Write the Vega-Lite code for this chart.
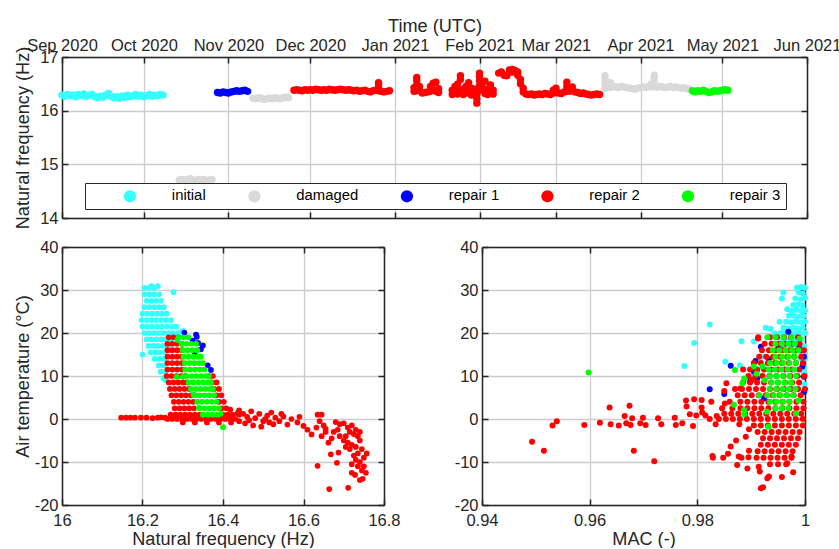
{
"$schema": "https://vega.github.io/schema/vega-lite/v6.json",
"padding": {"left": 12, "top": 16, "right": 0, "bottom": 0},
"spacing": 10,
"config": {
  "font": "Liberation Sans",
  "view": {"stroke": null},
  "axis": {"labelFont": "Liberation Sans", "labelFontSize": 16.5, "labelColor": "#262626", "titleFont": "Liberation Sans", "titleFontSize": 18.15, "titleFontWeight": "normal", "titleColor": "#262626", "gridColor": "#cccccc", "gridWidth": 1.3, "domain": true, "domainColor": "#262626", "domainWidth": 1.5, "tickColor": "#262626", "tickSize": -6, "tickWidth": 1.5, "labelPadding": 10, "titlePadding": 2, "labelFlush": false, "labelOverlap": false}
},
"resolve": {"scale": {"color": "independent"}, "legend": {"color": "independent"}},
"datasets": {
"ts": [
{"t":"2020-09-01","f":16.29,"s":"initial"},{"t":"2020-09-02","f":16.27,"s":"initial"},{"t":"2020-09-03","f":16.30,"s":"initial"},{"t":"2020-09-04","f":16.28,"s":"initial"},{"t":"2020-09-05","f":16.29,"s":"initial"},{"t":"2020-09-06","f":16.26,"s":"initial"},{"t":"2020-09-07","f":16.30,"s":"initial"},{"t":"2020-09-08","f":16.28,"s":"initial"},{"t":"2020-09-09","f":16.31,"s":"initial"},{"t":"2020-09-10","f":16.27,"s":"initial"},{"t":"2020-09-11","f":16.29,"s":"initial"},{"t":"2020-09-12","f":16.30,"s":"initial"},{"t":"2020-09-13","f":16.26,"s":"initial"},{"t":"2020-09-14","f":16.24,"s":"initial"},{"t":"2020-09-15","f":16.27,"s":"initial"},{"t":"2020-09-16","f":16.25,"s":"initial"},{"t":"2020-09-17","f":16.29,"s":"initial"},{"t":"2020-09-18","f":16.32,"s":"initial"},{"t":"2020-09-19","f":16.27,"s":"initial"},{"t":"2020-09-20","f":16.24,"s":"initial"},{"t":"2020-09-21","f":16.26,"s":"initial"},{"t":"2020-09-22","f":16.23,"s":"initial"},{"t":"2020-09-23","f":16.27,"s":"initial"},{"t":"2020-09-24","f":16.25,"s":"initial"},{"t":"2020-09-25","f":16.29,"s":"initial"},{"t":"2020-09-26","f":16.26,"s":"initial"},{"t":"2020-09-27","f":16.28,"s":"initial"},{"t":"2020-09-28","f":16.30,"s":"initial"},{"t":"2020-09-29","f":16.27,"s":"initial"},{"t":"2020-09-30","f":16.29,"s":"initial"},{"t":"2020-10-01","f":16.26,"s":"initial"},{"t":"2020-10-02","f":16.28,"s":"initial"},{"t":"2020-10-03","f":16.30,"s":"initial"},{"t":"2020-10-04","f":16.27,"s":"initial"},{"t":"2020-10-05","f":16.29,"s":"initial"},{"t":"2020-10-06","f":16.28,"s":"initial"},{"t":"2020-10-07","f":16.30,"s":"initial"},{"t":"2020-10-08","f":16.29,"s":"initial"},
{"t":"2020-10-14","f":14.71,"s":"damaged"},{"t":"2020-10-15","f":14.72,"s":"damaged"},{"t":"2020-10-16","f":14.70,"s":"damaged"},{"t":"2020-10-17","f":14.72,"s":"damaged"},{"t":"2020-10-18","f":14.73,"s":"damaged"},{"t":"2020-10-19","f":14.71,"s":"damaged"},{"t":"2020-10-20","f":14.70,"s":"damaged"},{"t":"2020-10-21","f":14.72,"s":"damaged"},{"t":"2020-10-22","f":14.71,"s":"damaged"},{"t":"2020-10-23","f":14.72,"s":"damaged"},{"t":"2020-10-24","f":14.70,"s":"damaged"},{"t":"2020-10-25","f":14.71,"s":"damaged"},{"t":"2020-10-26","f":14.72,"s":"damaged"},
{"t":"2020-10-28","f":16.34,"s":"repair 1"},{"t":"2020-10-29","f":16.33,"s":"repair 1"},{"t":"2020-10-30","f":16.35,"s":"repair 1"},{"t":"2020-10-31","f":16.34,"s":"repair 1"},{"t":"2020-11-01","f":16.33,"s":"repair 1"},{"t":"2020-11-02","f":16.35,"s":"repair 1"},{"t":"2020-11-03","f":16.36,"s":"repair 1"},{"t":"2020-11-04","f":16.37,"s":"repair 1"},{"t":"2020-11-05","f":16.36,"s":"repair 1"},{"t":"2020-11-06","f":16.37,"s":"repair 1"},{"t":"2020-11-07","f":16.38,"s":"repair 1"},{"t":"2020-11-08","f":16.36,"s":"repair 1"},
{"t":"2020-11-10","f":16.23,"s":"damaged"},{"t":"2020-11-11","f":16.22,"s":"damaged"},{"t":"2020-11-12","f":16.24,"s":"damaged"},{"t":"2020-11-13","f":16.23,"s":"damaged"},{"t":"2020-11-14","f":16.21,"s":"damaged"},{"t":"2020-11-15","f":16.22,"s":"damaged"},{"t":"2020-11-16","f":16.23,"s":"damaged"},{"t":"2020-11-17","f":16.22,"s":"damaged"},{"t":"2020-11-18","f":16.24,"s":"damaged"},{"t":"2020-11-19","f":16.23,"s":"damaged"},{"t":"2020-11-20","f":16.22,"s":"damaged"},{"t":"2020-11-21","f":16.24,"s":"damaged"},{"t":"2020-11-22","f":16.25,"s":"damaged"},{"t":"2020-11-23","f":16.24,"s":"damaged"},
{"t":"2020-11-25","f":16.38,"s":"repair 2"},{"t":"2020-11-26","f":16.39,"s":"repair 2"},{"t":"2020-11-27","f":16.38,"s":"repair 2"},{"t":"2020-11-28","f":16.37,"s":"repair 2"},{"t":"2020-11-29","f":16.39,"s":"repair 2"},{"t":"2020-11-30","f":16.38,"s":"repair 2"},{"t":"2020-12-01","f":16.39,"s":"repair 2"},{"t":"2020-12-02","f":16.38,"s":"repair 2"},{"t":"2020-12-03","f":16.40,"s":"repair 2"},{"t":"2020-12-04","f":16.39,"s":"repair 2"},{"t":"2020-12-05","f":16.38,"s":"repair 2"},{"t":"2020-12-06","f":16.39,"s":"repair 2"},{"t":"2020-12-07","f":16.38,"s":"repair 2"},{"t":"2020-12-08","f":16.40,"s":"repair 2"},{"t":"2020-12-09","f":16.39,"s":"repair 2"},{"t":"2020-12-10","f":16.38,"s":"repair 2"},{"t":"2020-12-11","f":16.39,"s":"repair 2"},{"t":"2020-12-12","f":16.40,"s":"repair 2"},{"t":"2020-12-13","f":16.39,"s":"repair 2"},{"t":"2020-12-14","f":16.38,"s":"repair 2"},{"t":"2020-12-15","f":16.39,"s":"repair 2"},{"t":"2020-12-16","f":16.38,"s":"repair 2"},{"t":"2020-12-17","f":16.37,"s":"repair 2"},{"t":"2020-12-18","f":16.38,"s":"repair 2"},{"t":"2020-12-19","f":16.36,"s":"repair 2"},{"t":"2020-12-20","f":16.37,"s":"repair 2"},{"t":"2020-12-21","f":16.38,"s":"repair 2"},{"t":"2020-12-22","f":16.36,"s":"repair 2"},{"t":"2020-12-23","f":16.35,"s":"repair 2"},{"t":"2020-12-24","f":16.37,"s":"repair 2"},{"t":"2020-12-25","f":16.38,"s":"repair 2"},{"t":"2020-12-26","f":16.37,"s":"repair 2"},{"t":"2020-12-26","f":16.43,"s":"repair 2"},{"t":"2020-12-26","f":16.48,"s":"repair 2"},{"t":"2020-12-26","f":16.52,"s":"repair 2"},{"t":"2020-12-27","f":16.36,"s":"repair 2"},{"t":"2020-12-28","f":16.35,"s":"repair 2"},{"t":"2020-12-29","f":16.36,"s":"repair 2"},{"t":"2020-12-30","f":16.37,"s":"repair 2"},
{"t":"2021-01-08","f":16.36,"s":"repair 2"},{"t":"2021-01-08","f":16.43,"s":"repair 2"},{"t":"2021-01-09","f":16.37,"s":"repair 2"},{"t":"2021-01-09","f":16.48,"s":"repair 2"},{"t":"2021-01-09","f":16.56,"s":"repair 2"},{"t":"2021-01-09","f":16.62,"s":"repair 2"},{"t":"2021-01-10","f":16.38,"s":"repair 2"},{"t":"2021-01-10","f":16.45,"s":"repair 2"},{"t":"2021-01-11","f":16.33,"s":"repair 2"},{"t":"2021-01-12","f":16.34,"s":"repair 2"},{"t":"2021-01-13","f":16.35,"s":"repair 2"},{"t":"2021-01-14","f":16.36,"s":"repair 2"},{"t":"2021-01-14","f":16.45,"s":"repair 2"},{"t":"2021-01-15","f":16.38,"s":"repair 2"},{"t":"2021-01-15","f":16.51,"s":"repair 2"},{"t":"2021-01-16","f":16.36,"s":"repair 2"},{"t":"2021-01-16","f":16.53,"s":"repair 2"},{"t":"2021-01-17","f":16.34,"s":"repair 2"},{"t":"2021-01-17","f":16.41,"s":"repair 2"},
{"t":"2021-01-22","f":16.30,"s":"repair 2"},{"t":"2021-01-22","f":16.38,"s":"repair 2"},{"t":"2021-01-23","f":16.33,"s":"repair 2"},{"t":"2021-01-23","f":16.45,"s":"repair 2"},{"t":"2021-01-24","f":16.31,"s":"repair 2"},{"t":"2021-01-24","f":16.50,"s":"repair 2"},{"t":"2021-01-25","f":16.40,"s":"repair 2"},{"t":"2021-01-25","f":16.58,"s":"repair 2"},{"t":"2021-01-25","f":16.65,"s":"repair 2"},{"t":"2021-01-26","f":16.30,"s":"repair 2"},{"t":"2021-01-26","f":16.38,"s":"repair 2"},{"t":"2021-01-27","f":16.45,"s":"repair 2"},{"t":"2021-01-27","f":16.33,"s":"repair 2"},{"t":"2021-01-28","f":16.52,"s":"repair 2"},{"t":"2021-01-28","f":16.36,"s":"repair 2"},{"t":"2021-01-29","f":16.29,"s":"repair 2"},{"t":"2021-01-29","f":16.42,"s":"repair 2"},{"t":"2021-01-30","f":16.31,"s":"repair 2"},{"t":"2021-01-30","f":16.40,"s":"repair 2"},{"t":"2021-01-31","f":16.14,"s":"repair 2"},{"t":"2021-01-31","f":16.22,"s":"repair 2"},{"t":"2021-01-31","f":16.30,"s":"repair 2"},{"t":"2021-02-01","f":16.38,"s":"repair 2"},{"t":"2021-02-01","f":16.47,"s":"repair 2"},{"t":"2021-02-01","f":16.56,"s":"repair 2"},{"t":"2021-02-01","f":16.63,"s":"repair 2"},{"t":"2021-02-01","f":16.70,"s":"repair 2"},{"t":"2021-02-02","f":16.40,"s":"repair 2"},{"t":"2021-02-02","f":16.50,"s":"repair 2"},{"t":"2021-02-03","f":16.32,"s":"repair 2"},{"t":"2021-02-03","f":16.55,"s":"repair 2"},{"t":"2021-02-04","f":16.30,"s":"repair 2"},{"t":"2021-02-04","f":16.40,"s":"repair 2"},{"t":"2021-02-05","f":16.36,"s":"repair 2"},{"t":"2021-02-05","f":16.48,"s":"repair 2"},{"t":"2021-02-06","f":16.31,"s":"repair 2"},{"t":"2021-02-06","f":16.38,"s":"repair 2"},
{"t":"2021-02-08","f":16.70,"s":"repair 2"},{"t":"2021-02-09","f":16.72,"s":"repair 2"},{"t":"2021-02-10","f":16.66,"s":"repair 2"},{"t":"2021-02-11","f":16.65,"s":"repair 2"},{"t":"2021-02-12","f":16.72,"s":"repair 2"},{"t":"2021-02-12","f":16.76,"s":"repair 2"},{"t":"2021-02-13","f":16.77,"s":"repair 2"},{"t":"2021-02-13","f":16.72,"s":"repair 2"},{"t":"2021-02-14","f":16.75,"s":"repair 2"},{"t":"2021-02-15","f":16.72,"s":"repair 2"},{"t":"2021-02-15","f":16.66,"s":"repair 2"},{"t":"2021-02-16","f":16.58,"s":"repair 2"},{"t":"2021-02-16","f":16.50,"s":"repair 2"},{"t":"2021-02-17","f":16.42,"s":"repair 2"},{"t":"2021-02-17","f":16.35,"s":"repair 2"},
{"t":"2021-02-18","f":16.31,"s":"repair 2"},{"t":"2021-02-19","f":16.30,"s":"repair 2"},{"t":"2021-02-20","f":16.31,"s":"repair 2"},{"t":"2021-02-21","f":16.29,"s":"repair 2"},{"t":"2021-02-22","f":16.30,"s":"repair 2"},{"t":"2021-02-23","f":16.31,"s":"repair 2"},{"t":"2021-02-24","f":16.30,"s":"repair 2"},{"t":"2021-02-25","f":16.32,"s":"repair 2"},{"t":"2021-02-26","f":16.31,"s":"repair 2"},{"t":"2021-02-27","f":16.30,"s":"repair 2"},{"t":"2021-02-28","f":16.33,"s":"repair 2"},{"t":"2021-02-28","f":16.38,"s":"repair 2"},{"t":"2021-03-01","f":16.34,"s":"repair 2"},{"t":"2021-03-01","f":16.42,"s":"repair 2"},{"t":"2021-03-02","f":16.33,"s":"repair 2"},{"t":"2021-03-03","f":16.32,"s":"repair 2"},{"t":"2021-03-04","f":16.35,"s":"repair 2"},{"t":"2021-03-05","f":16.36,"s":"repair 2"},{"t":"2021-03-05","f":16.45,"s":"repair 2"},{"t":"2021-03-05","f":16.53,"s":"repair 2"},{"t":"2021-03-06","f":16.36,"s":"repair 2"},{"t":"2021-03-07","f":16.38,"s":"repair 2"},{"t":"2021-03-07","f":16.44,"s":"repair 2"},{"t":"2021-03-08","f":16.35,"s":"repair 2"},{"t":"2021-03-09","f":16.34,"s":"repair 2"},{"t":"2021-03-10","f":16.32,"s":"repair 2"},{"t":"2021-03-11","f":16.33,"s":"repair 2"},{"t":"2021-03-12","f":16.31,"s":"repair 2"},{"t":"2021-03-13","f":16.30,"s":"repair 2"},{"t":"2021-03-14","f":16.29,"s":"repair 2"},{"t":"2021-03-15","f":16.30,"s":"repair 2"},{"t":"2021-03-16","f":16.31,"s":"repair 2"},{"t":"2021-03-17","f":16.30,"s":"repair 2"},
{"t":"2021-03-19","f":16.42,"s":"damaged"},{"t":"2021-03-19","f":16.50,"s":"damaged"},{"t":"2021-03-19","f":16.58,"s":"damaged"},{"t":"2021-03-19","f":16.65,"s":"damaged"},{"t":"2021-03-20","f":16.44,"s":"damaged"},{"t":"2021-03-21","f":16.43,"s":"damaged"},{"t":"2021-03-21","f":16.52,"s":"damaged"},{"t":"2021-03-22","f":16.45,"s":"damaged"},{"t":"2021-03-23","f":16.44,"s":"damaged"},{"t":"2021-03-24","f":16.43,"s":"damaged"},{"t":"2021-03-25","f":16.45,"s":"damaged"},{"t":"2021-03-26","f":16.44,"s":"damaged"},{"t":"2021-03-27","f":16.43,"s":"damaged"},{"t":"2021-03-28","f":16.42,"s":"damaged"},{"t":"2021-03-29","f":16.41,"s":"damaged"},{"t":"2021-03-30","f":16.40,"s":"damaged"},{"t":"2021-03-31","f":16.42,"s":"damaged"},{"t":"2021-04-01","f":16.43,"s":"damaged"},{"t":"2021-04-02","f":16.44,"s":"damaged"},{"t":"2021-04-03","f":16.43,"s":"damaged"},{"t":"2021-04-04","f":16.45,"s":"damaged"},{"t":"2021-04-05","f":16.44,"s":"damaged"},{"t":"2021-04-05","f":16.50,"s":"damaged"},{"t":"2021-04-06","f":16.46,"s":"damaged"},{"t":"2021-04-06","f":16.52,"s":"damaged"},{"t":"2021-04-06","f":16.60,"s":"damaged"},{"t":"2021-04-06","f":16.66,"s":"damaged"},{"t":"2021-04-07","f":16.44,"s":"damaged"},{"t":"2021-04-08","f":16.45,"s":"damaged"},{"t":"2021-04-09","f":16.44,"s":"damaged"},{"t":"2021-04-10","f":16.43,"s":"damaged"},{"t":"2021-04-11","f":16.44,"s":"damaged"},{"t":"2021-04-12","f":16.45,"s":"damaged"},{"t":"2021-04-13","f":16.43,"s":"damaged"},{"t":"2021-04-14","f":16.44,"s":"damaged"},{"t":"2021-04-15","f":16.43,"s":"damaged"},{"t":"2021-04-16","f":16.42,"s":"damaged"},{"t":"2021-04-17","f":16.43,"s":"damaged"},{"t":"2021-04-18","f":16.41,"s":"damaged"},{"t":"2021-04-19","f":16.40,"s":"damaged"},
{"t":"2021-04-20","f":16.37,"s":"repair 3"},{"t":"2021-04-21","f":16.35,"s":"repair 3"},{"t":"2021-04-22","f":16.37,"s":"repair 3"},{"t":"2021-04-23","f":16.36,"s":"repair 3"},{"t":"2021-04-24","f":16.38,"s":"repair 3"},{"t":"2021-04-25","f":16.36,"s":"repair 3"},{"t":"2021-04-26","f":16.34,"s":"repair 3"},{"t":"2021-04-27","f":16.35,"s":"repair 3"},{"t":"2021-04-28","f":16.37,"s":"repair 3"},{"t":"2021-04-29","f":16.36,"s":"repair 3"},{"t":"2021-04-30","f":16.37,"s":"repair 3"},{"t":"2021-05-01","f":16.38,"s":"repair 3"},{"t":"2021-05-02","f":16.39,"s":"repair 3"},{"t":"2021-05-03","f":16.38,"s":"repair 3"}
],
"ft": [
{"f":16.205,"T":30.5,"s":"initial"},{"f":16.217,"T":30.5,"s":"initial"},{"f":16.229,"T":30.5,"s":"initial"},{"f":16.222,"T":30.9,"s":"initial"},{"f":16.238,"T":30.9,"s":"initial"},
{"f":16.205,"T":29,"s":"initial"},{"f":16.217,"T":29,"s":"initial"},{"f":16.229,"T":29,"s":"initial"},{"f":16.241,"T":29,"s":"initial"},{"f":16.277,"T":29.5,"s":"initial"},
{"f":16.21,"T":27.5,"s":"initial"},{"f":16.222,"T":27.5,"s":"initial"},{"f":16.234,"T":27.5,"s":"initial"},{"f":16.246,"T":27.5,"s":"initial"},
{"f":16.205,"T":26,"s":"initial"},{"f":16.217,"T":26,"s":"initial"},{"f":16.229,"T":26,"s":"initial"},{"f":16.241,"T":26,"s":"initial"},{"f":16.253,"T":26,"s":"initial"},
{"f":16.2,"T":24.5,"s":"initial"},{"f":16.212,"T":24.5,"s":"initial"},{"f":16.224,"T":24.5,"s":"initial"},{"f":16.236,"T":24.5,"s":"initial"},{"f":16.248,"T":24.5,"s":"initial"},{"f":16.26,"T":24.5,"s":"initial"},
{"f":16.198,"T":23,"s":"initial"},{"f":16.21,"T":23,"s":"initial"},{"f":16.222,"T":23,"s":"initial"},{"f":16.234,"T":23,"s":"initial"},{"f":16.246,"T":23,"s":"initial"},{"f":16.258,"T":23,"s":"initial"},{"f":16.27,"T":23,"s":"initial"},
{"f":16.2,"T":21.5,"s":"initial"},{"f":16.212,"T":21.5,"s":"initial"},{"f":16.224,"T":21.5,"s":"initial"},{"f":16.236,"T":21.5,"s":"initial"},{"f":16.248,"T":21.5,"s":"initial"},{"f":16.26,"T":21.5,"s":"initial"},{"f":16.272,"T":21.5,"s":"initial"},{"f":16.284,"T":21.5,"s":"initial"},
{"f":16.205,"T":20,"s":"initial"},{"f":16.217,"T":20,"s":"initial"},{"f":16.229,"T":20,"s":"initial"},{"f":16.241,"T":20,"s":"initial"},{"f":16.253,"T":20,"s":"initial"},{"f":16.265,"T":20,"s":"initial"},{"f":16.277,"T":20,"s":"initial"},{"f":16.289,"T":20,"s":"initial"},{"f":16.3,"T":20.5,"s":"initial"},
{"f":16.21,"T":18.5,"s":"initial"},{"f":16.222,"T":18.5,"s":"initial"},{"f":16.234,"T":18.5,"s":"initial"},{"f":16.246,"T":18.5,"s":"initial"},{"f":16.258,"T":18.5,"s":"initial"},{"f":16.27,"T":18.5,"s":"initial"},
{"f":16.215,"T":17,"s":"initial"},{"f":16.227,"T":17,"s":"initial"},{"f":16.239,"T":17,"s":"initial"},{"f":16.251,"T":17,"s":"initial"},{"f":16.263,"T":17,"s":"initial"},
{"f":16.22,"T":15.5,"s":"initial"},{"f":16.232,"T":15.5,"s":"initial"},{"f":16.244,"T":15.5,"s":"initial"},{"f":16.256,"T":15.5,"s":"initial"},{"f":16.2,"T":15,"s":"initial"},
{"f":16.23,"T":14,"s":"initial"},{"f":16.242,"T":14,"s":"initial"},{"f":16.254,"T":14,"s":"initial"},
{"f":16.24,"T":12.5,"s":"initial"},{"f":16.252,"T":12.5,"s":"initial"},{"f":16.245,"T":11,"s":"initial"},{"f":16.257,"T":11,"s":"initial"},{"f":16.252,"T":9.5,"s":"initial"},{"f":16.258,"T":9,"s":"initial"},
{"f":16.304,"T":20.1,"s":"repair 1"},{"f":16.333,"T":19.6,"s":"repair 1"},{"f":16.335,"T":19.1,"s":"repair 1"},{"f":16.338,"T":17.7,"s":"repair 1"},{"f":16.35,"T":17.1,"s":"repair 1"},{"f":16.345,"T":16.2,"s":"repair 1"},{"f":16.33,"T":14.9,"s":"repair 1"},{"f":16.362,"T":12.5,"s":"repair 1"},{"f":16.37,"T":11.4,"s":"repair 1"},{"f":16.325,"T":18.2,"s":"repair 1"},
{"f":16.265,"T":19,"s":"repair 2"},{"f":16.277,"T":19,"s":"repair 2"},{"f":16.289,"T":19,"s":"repair 2"},
{"f":16.262,"T":17.5,"s":"repair 2"},{"f":16.274,"T":17.5,"s":"repair 2"},{"f":16.286,"T":17.5,"s":"repair 2"},{"f":16.298,"T":17.5,"s":"repair 2"},
{"f":16.262,"T":16,"s":"repair 2"},{"f":16.274,"T":16,"s":"repair 2"},{"f":16.286,"T":16,"s":"repair 2"},{"f":16.298,"T":16,"s":"repair 2"},
{"f":16.262,"T":14.5,"s":"repair 2"},{"f":16.274,"T":14.5,"s":"repair 2"},{"f":16.286,"T":14.5,"s":"repair 2"},{"f":16.298,"T":14.5,"s":"repair 2"},
{"f":16.262,"T":13,"s":"repair 2"},{"f":16.274,"T":13,"s":"repair 2"},{"f":16.286,"T":13,"s":"repair 2"},{"f":16.298,"T":13,"s":"repair 2"},
{"f":16.262,"T":11.5,"s":"repair 2"},{"f":16.274,"T":11.5,"s":"repair 2"},{"f":16.286,"T":11.5,"s":"repair 2"},{"f":16.298,"T":11.5,"s":"repair 2"},
{"f":16.26,"T":10,"s":"repair 2"},{"f":16.272,"T":10,"s":"repair 2"},{"f":16.284,"T":10,"s":"repair 2"},{"f":16.296,"T":10,"s":"repair 2"},{"f":16.306,"T":10,"s":"repair 2"},{"f":16.366,"T":10,"s":"repair 2"},{"f":16.375,"T":10,"s":"repair 2"},
{"f":16.265,"T":8.5,"s":"repair 2"},{"f":16.277,"T":8.5,"s":"repair 2"},{"f":16.289,"T":8.5,"s":"repair 2"},{"f":16.301,"T":8.5,"s":"repair 2"},{"f":16.311,"T":8.5,"s":"repair 2"},{"f":16.372,"T":8.5,"s":"repair 2"},{"f":16.384,"T":8.5,"s":"repair 2"},
{"f":16.268,"T":7,"s":"repair 2"},{"f":16.28,"T":7,"s":"repair 2"},{"f":16.292,"T":7,"s":"repair 2"},{"f":16.304,"T":7,"s":"repair 2"},{"f":16.316,"T":7,"s":"repair 2"},{"f":16.378,"T":7,"s":"repair 2"},{"f":16.39,"T":7,"s":"repair 2"},
{"f":16.272,"T":5.5,"s":"repair 2"},{"f":16.284,"T":5.5,"s":"repair 2"},{"f":16.296,"T":5.5,"s":"repair 2"},{"f":16.308,"T":5.5,"s":"repair 2"},{"f":16.32,"T":5.5,"s":"repair 2"},{"f":16.384,"T":5.5,"s":"repair 2"},{"f":16.396,"T":5.5,"s":"repair 2"},
{"f":16.278,"T":4,"s":"repair 2"},{"f":16.29,"T":4,"s":"repair 2"},{"f":16.302,"T":4,"s":"repair 2"},{"f":16.314,"T":4,"s":"repair 2"},{"f":16.326,"T":4,"s":"repair 2"},{"f":16.39,"T":4,"s":"repair 2"},{"f":16.402,"T":4,"s":"repair 2"},
{"f":16.28,"T":2.5,"s":"repair 2"},{"f":16.292,"T":2.5,"s":"repair 2"},{"f":16.304,"T":2.5,"s":"repair 2"},{"f":16.316,"T":2.5,"s":"repair 2"},{"f":16.328,"T":2.5,"s":"repair 2"},{"f":16.396,"T":2.5,"s":"repair 2"},{"f":16.408,"T":2.5,"s":"repair 2"},{"f":16.418,"T":2.2,"s":"repair 2"},
{"f":16.27,"T":1,"s":"repair 2"},{"f":16.282,"T":1,"s":"repair 2"},{"f":16.294,"T":1,"s":"repair 2"},{"f":16.306,"T":1,"s":"repair 2"},{"f":16.318,"T":1,"s":"repair 2"},{"f":16.33,"T":1,"s":"repair 2"},{"f":16.342,"T":1,"s":"repair 2"},{"f":16.4,"T":1,"s":"repair 2"},{"f":16.412,"T":1,"s":"repair 2"},{"f":16.424,"T":1,"s":"repair 2"},{"f":16.436,"T":1.3,"s":"repair 2"},
{"f":16.262,"T":0,"s":"repair 2"},{"f":16.274,"T":0,"s":"repair 2"},{"f":16.286,"T":0,"s":"repair 2"},{"f":16.298,"T":0,"s":"repair 2"},{"f":16.31,"T":0,"s":"repair 2"},{"f":16.322,"T":0,"s":"repair 2"},{"f":16.334,"T":0,"s":"repair 2"},{"f":16.346,"T":0,"s":"repair 2"},{"f":16.358,"T":0,"s":"repair 2"},{"f":16.37,"T":0,"s":"repair 2"},{"f":16.382,"T":0,"s":"repair 2"},{"f":16.394,"T":0,"s":"repair 2"},{"f":16.406,"T":0,"s":"repair 2"},{"f":16.418,"T":0,"s":"repair 2"},{"f":16.43,"T":0,"s":"repair 2"},
{"f":16.3,"T":-0.8,"s":"repair 2"},{"f":16.33,"T":-0.8,"s":"repair 2"},{"f":16.36,"T":-0.8,"s":"repair 2"},{"f":16.39,"T":-0.8,"s":"repair 2"},{"f":16.42,"T":-0.8,"s":"repair 2"},
{"f":16.147,"T":0.3,"s":"repair 2"},{"f":16.159,"T":0.3,"s":"repair 2"},{"f":16.17,"T":0.3,"s":"repair 2"},{"f":16.181,"T":0.3,"s":"repair 2"},{"f":16.196,"T":0.3,"s":"repair 2"},{"f":16.21,"T":0.3,"s":"repair 2"},{"f":16.225,"T":0.2,"s":"repair 2"},{"f":16.238,"T":0.3,"s":"repair 2"},{"f":16.246,"T":0.4,"s":"repair 2"},{"f":16.256,"T":0.3,"s":"repair 2"},
{"f":16.44,"T":2,"s":"repair 2"},{"f":16.45,"T":1.2,"s":"repair 2"},{"f":16.46,"T":0.5,"s":"repair 2"},{"f":16.44,"T":-0.5,"s":"repair 2"},{"f":16.455,"T":-1,"s":"repair 2"},{"f":16.47,"T":1.8,"s":"repair 2"},{"f":16.48,"T":0.2,"s":"repair 2"},{"f":16.49,"T":1.2,"s":"repair 2"},{"f":16.475,"T":-1.5,"s":"repair 2"},{"f":16.5,"T":-0.5,"s":"repair 2"},{"f":16.51,"T":0.8,"s":"repair 2"},{"f":16.52,"T":1.5,"s":"repair 2"},{"f":16.53,"T":0.3,"s":"repair 2"},{"f":16.525,"T":-1.2,"s":"repair 2"},{"f":16.54,"T":-0.5,"s":"repair 2"},{"f":16.55,"T":0.6,"s":"repair 2"},{"f":16.56,"T":-1.3,"s":"repair 2"},{"f":16.57,"T":0,"s":"repair 2"},{"f":16.585,"T":-0.8,"s":"repair 2"},{"f":16.59,"T":0.5,"s":"repair 2"},{"f":16.6,"T":-1.6,"s":"repair 2"},{"f":16.61,"T":-2.5,"s":"repair 2"},{"f":16.62,"T":-3.6,"s":"repair 2"},{"f":16.44,"T":1,"s":"repair 2"},{"f":16.465,"T":-0.3,"s":"repair 2"},{"f":16.495,"T":-1.8,"s":"repair 2"},{"f":16.505,"T":0,"s":"repair 2"},{"f":16.545,"T":1.2,"s":"repair 2"},{"f":16.515,"T":-0.8,"s":"repair 2"},
{"f":16.635,"T":1,"s":"repair 2"},{"f":16.645,"T":1,"s":"repair 2"},{"f":16.64,"T":-0.5,"s":"repair 2"},{"f":16.65,"T":-1.5,"s":"repair 2"},{"f":16.632,"T":-2,"s":"repair 2"},{"f":16.655,"T":-3,"s":"repair 2"},{"f":16.645,"T":-4,"s":"repair 2"},{"f":16.662,"T":-5.5,"s":"repair 2"},{"f":16.67,"T":-4.5,"s":"repair 2"},{"f":16.655,"T":-2.3,"s":"repair 2"},{"f":16.68,"T":-0.7,"s":"repair 2"},{"f":16.69,"T":-1.2,"s":"repair 2"},{"f":16.685,"T":-2.5,"s":"repair 2"},{"f":16.7,"T":-1,"s":"repair 2"},{"f":16.71,"T":-2,"s":"repair 2"},{"f":16.72,"T":-1.5,"s":"repair 2"},{"f":16.73,"T":-2.5,"s":"repair 2"},{"f":16.74,"T":-3,"s":"repair 2"},{"f":16.735,"T":-4,"s":"repair 2"},{"f":16.725,"T":-3.5,"s":"repair 2"},{"f":16.715,"T":-3,"s":"repair 2"},{"f":16.705,"T":-4,"s":"repair 2"},{"f":16.7,"T":-5,"s":"repair 2"},{"f":16.71,"T":-5.5,"s":"repair 2"},{"f":16.72,"T":-6,"s":"repair 2"},{"f":16.73,"T":-6.5,"s":"repair 2"},{"f":16.74,"T":-5,"s":"repair 2"},{"f":16.745,"T":-7,"s":"repair 2"},{"f":16.735,"T":-8,"s":"repair 2"},{"f":16.725,"T":-8.5,"s":"repair 2"},{"f":16.715,"T":-7,"s":"repair 2"},{"f":16.705,"T":-6.5,"s":"repair 2"},{"f":16.73,"T":-9.5,"s":"repair 2"},{"f":16.74,"T":-10,"s":"repair 2"},{"f":16.75,"T":-11,"s":"repair 2"},{"f":16.745,"T":-12,"s":"repair 2"},{"f":16.735,"T":-11,"s":"repair 2"},{"f":16.72,"T":-10.5,"s":"repair 2"},{"f":16.747,"T":-13.9,"s":"repair 2"},{"f":16.74,"T":-14.2,"s":"repair 2"},{"f":16.755,"T":-12.5,"s":"repair 2"},{"f":16.757,"T":-8,"s":"repair 2"},{"f":16.75,"T":-9,"s":"repair 2"},{"f":16.683,"T":-10.2,"s":"repair 2"},{"f":16.687,"T":-7.8,"s":"repair 2"},{"f":16.668,"T":-8.2,"s":"repair 2"},{"f":16.635,"T":-10.9,"s":"repair 2"},{"f":16.664,"T":-16.3,"s":"repair 2"},{"f":16.711,"T":-16,"s":"repair 2"},{"f":16.72,"T":-12.5,"s":"repair 2"},{"f":16.728,"T":-13,"s":"repair 2"},{"f":16.69,"T":-4,"s":"repair 2"},{"f":16.675,"T":-3,"s":"repair 2"},
{"f":16.29,"T":19,"s":"repair 3"},{"f":16.302,"T":19,"s":"repair 3"},{"f":16.314,"T":19,"s":"repair 3"},{"f":16.287,"T":18.4,"s":"repair 3"},
{"f":16.297,"T":17.5,"s":"repair 3"},{"f":16.309,"T":17.5,"s":"repair 3"},{"f":16.321,"T":17.5,"s":"repair 3"},{"f":16.333,"T":17.5,"s":"repair 3"},
{"f":16.3,"T":16,"s":"repair 3"},{"f":16.312,"T":16,"s":"repair 3"},{"f":16.324,"T":16,"s":"repair 3"},{"f":16.336,"T":16,"s":"repair 3"},
{"f":16.302,"T":14.5,"s":"repair 3"},{"f":16.314,"T":14.5,"s":"repair 3"},{"f":16.326,"T":14.5,"s":"repair 3"},{"f":16.338,"T":14.5,"s":"repair 3"},{"f":16.345,"T":14.5,"s":"repair 3"},
{"f":16.305,"T":13,"s":"repair 3"},{"f":16.317,"T":13,"s":"repair 3"},{"f":16.329,"T":13,"s":"repair 3"},{"f":16.341,"T":13,"s":"repair 3"},{"f":16.35,"T":13,"s":"repair 3"},
{"f":16.306,"T":11.5,"s":"repair 3"},{"f":16.318,"T":11.5,"s":"repair 3"},{"f":16.33,"T":11.5,"s":"repair 3"},{"f":16.342,"T":11.5,"s":"repair 3"},{"f":16.354,"T":11.5,"s":"repair 3"},
{"f":16.31,"T":10,"s":"repair 3"},{"f":16.322,"T":10,"s":"repair 3"},{"f":16.334,"T":10,"s":"repair 3"},{"f":16.346,"T":10,"s":"repair 3"},{"f":16.358,"T":10,"s":"repair 3"},{"f":16.365,"T":10,"s":"repair 3"},
{"f":16.315,"T":8.5,"s":"repair 3"},{"f":16.327,"T":8.5,"s":"repair 3"},{"f":16.339,"T":8.5,"s":"repair 3"},{"f":16.351,"T":8.5,"s":"repair 3"},{"f":16.363,"T":8.5,"s":"repair 3"},{"f":16.37,"T":8.5,"s":"repair 3"},
{"f":16.32,"T":7,"s":"repair 3"},{"f":16.332,"T":7,"s":"repair 3"},{"f":16.344,"T":7,"s":"repair 3"},{"f":16.356,"T":7,"s":"repair 3"},{"f":16.368,"T":7,"s":"repair 3"},{"f":16.375,"T":7,"s":"repair 3"},
{"f":16.33,"T":5.5,"s":"repair 3"},{"f":16.342,"T":5.5,"s":"repair 3"},{"f":16.354,"T":5.5,"s":"repair 3"},{"f":16.366,"T":5.5,"s":"repair 3"},{"f":16.378,"T":5.5,"s":"repair 3"},
{"f":16.336,"T":4,"s":"repair 3"},{"f":16.348,"T":4,"s":"repair 3"},{"f":16.36,"T":4,"s":"repair 3"},{"f":16.372,"T":4,"s":"repair 3"},{"f":16.384,"T":4,"s":"repair 3"},
{"f":16.342,"T":2.5,"s":"repair 3"},{"f":16.354,"T":2.5,"s":"repair 3"},{"f":16.366,"T":2.5,"s":"repair 3"},{"f":16.378,"T":2.5,"s":"repair 3"},{"f":16.39,"T":2.5,"s":"repair 3"},
{"f":16.35,"T":1,"s":"repair 3"},{"f":16.362,"T":1,"s":"repair 3"},{"f":16.374,"T":1,"s":"repair 3"},{"f":16.386,"T":1,"s":"repair 3"},{"f":16.394,"T":1.2,"s":"repair 3"},
{"f":16.285,"T":9.8,"s":"repair 3"},{"f":16.3,"T":9.8,"s":"repair 3"},{"f":16.327,"T":5.7,"s":"repair 3"},{"f":16.34,"T":2.6,"s":"repair 3"},{"f":16.4,"T":-1.9,"s":"repair 3"}
],
"mt": [
{"m":0.9985,"T":30.5,"s":"initial"},{"m":0.9993,"T":30.7,"s":"initial"},{"m":1.0,"T":30.5,"s":"initial"},{"m":0.996,"T":29.4,"s":"initial"},{"m":0.9988,"T":29.5,"s":"initial"},{"m":0.9996,"T":29.2,"s":"initial"},
{"m":0.9957,"T":28,"s":"initial"},{"m":0.9982,"T":28,"s":"initial"},{"m":0.9992,"T":27.8,"s":"initial"},{"m":1.0,"T":28.2,"s":"initial"},
{"m":0.9978,"T":26.5,"s":"initial"},{"m":0.9987,"T":26.6,"s":"initial"},{"m":0.9995,"T":26.4,"s":"initial"},
{"m":0.9967,"T":25.5,"s":"initial"},{"m":0.9975,"T":25.2,"s":"initial"},{"m":0.9984,"T":25.4,"s":"initial"},{"m":0.9993,"T":25.1,"s":"initial"},{"m":1.0,"T":25.3,"s":"initial"},
{"m":0.997,"T":24,"s":"initial"},{"m":0.9979,"T":24,"s":"initial"},{"m":0.9988,"T":23.8,"s":"initial"},{"m":0.9997,"T":24,"s":"initial"},
{"m":0.9953,"T":22.6,"s":"initial"},{"m":0.9965,"T":22.6,"s":"initial"},{"m":0.9974,"T":22.5,"s":"initial"},{"m":0.9983,"T":22.7,"s":"initial"},{"m":0.9992,"T":22.5,"s":"initial"},{"m":1.0,"T":22.6,"s":"initial"},
{"m":0.9927,"T":21.2,"s":"initial"},{"m":0.996,"T":21.2,"s":"initial"},{"m":0.9969,"T":21,"s":"initial"},{"m":0.9978,"T":21.2,"s":"initial"},{"m":0.9987,"T":21,"s":"initial"},{"m":0.9996,"T":21.2,"s":"initial"},
{"m":0.9944,"T":19.9,"s":"initial"},{"m":0.9955,"T":20,"s":"initial"},{"m":0.9964,"T":20,"s":"initial"},{"m":0.9973,"T":19.8,"s":"initial"},{"m":0.9982,"T":20,"s":"initial"},{"m":0.9991,"T":19.9,"s":"initial"},{"m":1.0,"T":20,"s":"initial"},
{"m":0.9958,"T":18.5,"s":"initial"},{"m":0.9967,"T":18.5,"s":"initial"},{"m":0.9976,"T":18.5,"s":"initial"},{"m":0.9985,"T":18.5,"s":"initial"},{"m":0.9994,"T":18.5,"s":"initial"},
{"m":0.9962,"T":17,"s":"initial"},{"m":0.9975,"T":17,"s":"initial"},{"m":0.9988,"T":17,"s":"initial"},{"m":0.9998,"T":17,"s":"initial"},
{"m":0.998,"T":15.5,"s":"initial"},{"m":0.9993,"T":15.5,"s":"initial"},{"m":1.0,"T":15.3,"s":"initial"},{"m":0.9992,"T":14,"s":"initial"},{"m":1.0,"T":14,"s":"initial"},
{"m":0.9823,"T":22,"s":"initial"},{"m":0.9794,"T":17.7,"s":"initial"},{"m":0.9776,"T":12.3,"s":"initial"},{"m":0.9852,"T":13.3,"s":"initial"},{"m":0.9882,"T":18.1,"s":"initial"},{"m":0.9879,"T":12.5,"s":"initial"},{"m":0.9921,"T":14.5,"s":"initial"},{"m":0.9936,"T":21,"s":"initial"},{"m":0.9905,"T":18,"s":"initial"},{"m":0.9998,"T":12,"s":"initial"},{"m":0.9999,"T":10.5,"s":"initial"},{"m":0.9999,"T":8,"s":"initial"},{"m":1.0,"T":6.5,"s":"initial"},{"m":0.9997,"T":11,"s":"initial"},
{"m":0.9862,"T":12.4,"s":"repair 1"},{"m":0.9823,"T":6.9,"s":"repair 1"},{"m":0.985,"T":5.8,"s":"repair 1"},{"m":0.9918,"T":16.8,"s":"repair 1"},{"m":0.9908,"T":13.5,"s":"repair 1"},{"m":0.9911,"T":9.4,"s":"repair 1"},{"m":0.9933,"T":13.9,"s":"repair 1"},{"m":0.9969,"T":20.3,"s":"repair 1"},{"m":0.9951,"T":16.9,"s":"repair 1"},{"m":0.9998,"T":9.8,"s":"repair 1"},{"m":0.9998,"T":6.3,"s":"repair 1"},{"m":0.9995,"T":12.2,"s":"repair 1"},{"m":0.9989,"T":17.2,"s":"repair 1"},{"m":0.9998,"T":14.5,"s":"repair 1"},{"m":0.9924,"T":4.8,"s":"repair 1"},{"m":0.9898,"T":8.7,"s":"repair 1"},{"m":0.9905,"T":11,"s":"repair 1"},{"m":0.9992,"T":16,"s":"repair 1"},
{"m":0.9913,"T":19,"s":"repair 2"},{"m":0.9935,"T":19,"s":"repair 2"},{"m":0.9948,"T":19,"s":"repair 2"},{"m":0.9961,"T":19,"s":"repair 2"},{"m":0.9974,"T":19,"s":"repair 2"},{"m":0.9987,"T":19,"s":"repair 2"},
{"m":0.9925,"T":17.5,"s":"repair 2"},{"m":0.9938,"T":17.5,"s":"repair 2"},{"m":0.9951,"T":17.5,"s":"repair 2"},{"m":0.9964,"T":17.5,"s":"repair 2"},{"m":0.9977,"T":17.5,"s":"repair 2"},{"m":0.999,"T":17.5,"s":"repair 2"},
{"m":0.992,"T":16,"s":"repair 2"},{"m":0.9933,"T":16,"s":"repair 2"},{"m":0.9946,"T":16,"s":"repair 2"},{"m":0.9959,"T":16,"s":"repair 2"},{"m":0.9972,"T":16,"s":"repair 2"},{"m":0.9985,"T":16,"s":"repair 2"},{"m":0.9998,"T":16,"s":"repair 2"},
{"m":0.9915,"T":14.5,"s":"repair 2"},{"m":0.9928,"T":14.5,"s":"repair 2"},{"m":0.9941,"T":14.5,"s":"repair 2"},{"m":0.9954,"T":14.5,"s":"repair 2"},{"m":0.9967,"T":14.5,"s":"repair 2"},{"m":0.998,"T":14.5,"s":"repair 2"},{"m":0.9993,"T":14.5,"s":"repair 2"},
{"m":0.9905,"T":13,"s":"repair 2"},{"m":0.9918,"T":13,"s":"repair 2"},{"m":0.9931,"T":13,"s":"repair 2"},{"m":0.9944,"T":13,"s":"repair 2"},{"m":0.9957,"T":13,"s":"repair 2"},{"m":0.997,"T":13,"s":"repair 2"},{"m":0.9983,"T":13,"s":"repair 2"},{"m":0.9996,"T":13,"s":"repair 2"},
{"m":0.9885,"T":11.5,"s":"repair 2"},{"m":0.9898,"T":11.5,"s":"repair 2"},{"m":0.9911,"T":11.5,"s":"repair 2"},{"m":0.9924,"T":11.5,"s":"repair 2"},{"m":0.9937,"T":11.5,"s":"repair 2"},{"m":0.995,"T":11.5,"s":"repair 2"},{"m":0.9963,"T":11.5,"s":"repair 2"},{"m":0.9976,"T":11.5,"s":"repair 2"},{"m":0.9989,"T":11.5,"s":"repair 2"},
{"m":0.9895,"T":10,"s":"repair 2"},{"m":0.9908,"T":10,"s":"repair 2"},{"m":0.9921,"T":10,"s":"repair 2"},{"m":0.9934,"T":10,"s":"repair 2"},{"m":0.9947,"T":10,"s":"repair 2"},{"m":0.996,"T":10,"s":"repair 2"},{"m":0.9973,"T":10,"s":"repair 2"},{"m":0.9986,"T":10,"s":"repair 2"},{"m":0.9999,"T":10,"s":"repair 2"},
{"m":0.9885,"T":8.5,"s":"repair 2"},{"m":0.9898,"T":8.5,"s":"repair 2"},{"m":0.9911,"T":8.5,"s":"repair 2"},{"m":0.9924,"T":8.5,"s":"repair 2"},{"m":0.9937,"T":8.5,"s":"repair 2"},{"m":0.995,"T":8.5,"s":"repair 2"},{"m":0.9963,"T":8.5,"s":"repair 2"},{"m":0.9976,"T":8.5,"s":"repair 2"},{"m":0.9989,"T":8.5,"s":"repair 2"},
{"m":0.987,"T":7,"s":"repair 2"},{"m":0.9883,"T":7,"s":"repair 2"},{"m":0.9896,"T":7,"s":"repair 2"},{"m":0.9909,"T":7,"s":"repair 2"},{"m":0.9922,"T":7,"s":"repair 2"},{"m":0.9935,"T":7,"s":"repair 2"},{"m":0.9948,"T":7,"s":"repair 2"},{"m":0.9961,"T":7,"s":"repair 2"},{"m":0.9974,"T":7,"s":"repair 2"},{"m":0.9987,"T":7,"s":"repair 2"},{"m":1.0,"T":7,"s":"repair 2"},
{"m":0.9875,"T":5.5,"s":"repair 2"},{"m":0.9888,"T":5.5,"s":"repair 2"},{"m":0.9901,"T":5.5,"s":"repair 2"},{"m":0.9914,"T":5.5,"s":"repair 2"},{"m":0.9927,"T":5.5,"s":"repair 2"},{"m":0.994,"T":5.5,"s":"repair 2"},{"m":0.9953,"T":5.5,"s":"repair 2"},{"m":0.9966,"T":5.5,"s":"repair 2"},{"m":0.9979,"T":5.5,"s":"repair 2"},{"m":0.9992,"T":5.5,"s":"repair 2"},
{"m":0.986,"T":4,"s":"repair 2"},{"m":0.988,"T":4,"s":"repair 2"},{"m":0.9893,"T":4,"s":"repair 2"},{"m":0.9906,"T":4,"s":"repair 2"},{"m":0.9919,"T":4,"s":"repair 2"},{"m":0.9932,"T":4,"s":"repair 2"},{"m":0.9945,"T":4,"s":"repair 2"},{"m":0.9958,"T":4,"s":"repair 2"},{"m":0.9971,"T":4,"s":"repair 2"},{"m":0.9984,"T":4,"s":"repair 2"},{"m":0.9997,"T":4,"s":"repair 2"},
{"m":0.9865,"T":2.5,"s":"repair 2"},{"m":0.988,"T":2.5,"s":"repair 2"},{"m":0.9893,"T":2.5,"s":"repair 2"},{"m":0.9906,"T":2.5,"s":"repair 2"},{"m":0.9919,"T":2.5,"s":"repair 2"},{"m":0.9932,"T":2.5,"s":"repair 2"},{"m":0.9945,"T":2.5,"s":"repair 2"},{"m":0.9958,"T":2.5,"s":"repair 2"},{"m":0.9971,"T":2.5,"s":"repair 2"},{"m":0.9984,"T":2.5,"s":"repair 2"},{"m":0.9997,"T":2.5,"s":"repair 2"},
{"m":0.985,"T":1.2,"s":"repair 2"},{"m":0.9863,"T":1.2,"s":"repair 2"},{"m":0.9876,"T":1.2,"s":"repair 2"},{"m":0.9889,"T":1.2,"s":"repair 2"},{"m":0.9902,"T":1.2,"s":"repair 2"},{"m":0.9915,"T":1.2,"s":"repair 2"},{"m":0.9928,"T":1.2,"s":"repair 2"},{"m":0.9941,"T":1.2,"s":"repair 2"},{"m":0.9954,"T":1.2,"s":"repair 2"},{"m":0.9967,"T":1.2,"s":"repair 2"},{"m":0.998,"T":1.2,"s":"repair 2"},{"m":0.9993,"T":1.2,"s":"repair 2"},
{"m":0.984,"T":0,"s":"repair 2"},{"m":0.9853,"T":0,"s":"repair 2"},{"m":0.9866,"T":0,"s":"repair 2"},{"m":0.9879,"T":0,"s":"repair 2"},{"m":0.9892,"T":0,"s":"repair 2"},{"m":0.9905,"T":0,"s":"repair 2"},{"m":0.9918,"T":0,"s":"repair 2"},{"m":0.9931,"T":0,"s":"repair 2"},{"m":0.9944,"T":0,"s":"repair 2"},{"m":0.9957,"T":0,"s":"repair 2"},{"m":0.997,"T":0,"s":"repair 2"},{"m":0.9983,"T":0,"s":"repair 2"},{"m":0.9996,"T":0,"s":"repair 2"},
{"m":0.9905,"T":-1.5,"s":"repair 2"},{"m":0.9918,"T":-1.5,"s":"repair 2"},{"m":0.9931,"T":-1.5,"s":"repair 2"},{"m":0.9944,"T":-1.5,"s":"repair 2"},{"m":0.9957,"T":-1.5,"s":"repair 2"},{"m":0.997,"T":-1.5,"s":"repair 2"},{"m":0.9983,"T":-1.5,"s":"repair 2"},{"m":0.9996,"T":-1.5,"s":"repair 2"},
{"m":0.9912,"T":-3,"s":"repair 2"},{"m":0.9925,"T":-3,"s":"repair 2"},{"m":0.9938,"T":-3,"s":"repair 2"},{"m":0.9951,"T":-3,"s":"repair 2"},{"m":0.9964,"T":-3,"s":"repair 2"},{"m":0.9977,"T":-3,"s":"repair 2"},{"m":0.999,"T":-3,"s":"repair 2"},
{"m":0.9922,"T":-4.5,"s":"repair 2"},{"m":0.9935,"T":-4.5,"s":"repair 2"},{"m":0.9948,"T":-4.5,"s":"repair 2"},{"m":0.9961,"T":-4.5,"s":"repair 2"},{"m":0.9974,"T":-4.5,"s":"repair 2"},{"m":0.9987,"T":-4.5,"s":"repair 2"},
{"m":0.9918,"T":-6,"s":"repair 2"},{"m":0.9931,"T":-6,"s":"repair 2"},{"m":0.9944,"T":-6,"s":"repair 2"},{"m":0.9957,"T":-6,"s":"repair 2"},{"m":0.997,"T":-6,"s":"repair 2"},{"m":0.9983,"T":-6,"s":"repair 2"},
{"m":0.9912,"T":-7.5,"s":"repair 2"},{"m":0.9925,"T":-7.5,"s":"repair 2"},{"m":0.9938,"T":-7.5,"s":"repair 2"},{"m":0.9951,"T":-7.5,"s":"repair 2"},{"m":0.9964,"T":-7.5,"s":"repair 2"},{"m":0.9977,"T":-7.5,"s":"repair 2"},
{"m":0.991,"T":-9,"s":"repair 2"},{"m":0.9923,"T":-9,"s":"repair 2"},{"m":0.9936,"T":-9,"s":"repair 2"},{"m":0.9949,"T":-9,"s":"repair 2"},{"m":0.9962,"T":-9,"s":"repair 2"},{"m":0.9975,"T":-9,"s":"repair 2"},
{"m":0.9935,"T":-10.5,"s":"repair 2"},{"m":0.995,"T":-10.5,"s":"repair 2"},{"m":0.9965,"T":-10.5,"s":"repair 2"},
{"m":0.9493,"T":-5.3,"s":"repair 2"},{"m":0.9515,"T":-7.4,"s":"repair 2"},{"m":0.9531,"T":-1.5,"s":"repair 2"},{"m":0.9539,"T":-0.5,"s":"repair 2"},{"m":0.959,"T":-1.4,"s":"repair 2"},{"m":0.9619,"T":-0.9,"s":"repair 2"},{"m":0.9637,"T":2.7,"s":"repair 2"},{"m":0.9639,"T":-1.2,"s":"repair 2"},{"m":0.9654,"T":-1.5,"s":"repair 2"},{"m":0.9665,"T":0.7,"s":"repair 2"},{"m":0.9668,"T":-1,"s":"repair 2"},{"m":0.9674,"T":3.1,"s":"repair 2"},{"m":0.9676,"T":-1.4,"s":"repair 2"},{"m":0.9679,"T":0.2,"s":"repair 2"},{"m":0.9682,"T":-7.4,"s":"repair 2"},{"m":0.9694,"T":-1,"s":"repair 2"},{"m":0.9699,"T":0.3,"s":"repair 2"},{"m":0.9704,"T":-1.4,"s":"repair 2"},{"m":0.972,"T":-9.8,"s":"repair 2"},{"m":0.9727,"T":0.2,"s":"repair 2"},{"m":0.9733,"T":-1.2,"s":"repair 2"},{"m":0.9758,"T":0.3,"s":"repair 2"},{"m":0.976,"T":-1.4,"s":"repair 2"},{"m":0.9772,"T":-1,"s":"repair 2"},{"m":0.9779,"T":4.3,"s":"repair 2"},{"m":0.978,"T":2.9,"s":"repair 2"},{"m":0.9786,"T":1.1,"s":"repair 2"},{"m":0.9794,"T":4.6,"s":"repair 2"},{"m":0.9792,"T":-1.6,"s":"repair 2"},{"m":0.9798,"T":0.8,"s":"repair 2"},{"m":0.9808,"T":4.4,"s":"repair 2"},{"m":0.9808,"T":2.7,"s":"repair 2"},{"m":0.9809,"T":1.5,"s":"repair 2"},{"m":0.9815,"T":0.8,"s":"repair 2"},{"m":0.9823,"T":0,"s":"repair 2"},{"m":0.9826,"T":4,"s":"repair 2"},{"m":0.9828,"T":-8.6,"s":"repair 2"},{"m":0.9829,"T":-9,"s":"repair 2"},{"m":0.9834,"T":-1.2,"s":"repair 2"},{"m":0.9836,"T":0.7,"s":"repair 2"},{"m":0.9846,"T":2.5,"s":"repair 2"},{"m":0.9848,"T":-9,"s":"repair 2"},{"m":0.985,"T":6.5,"s":"repair 2"},{"m":0.9851,"T":3.6,"s":"repair 2"},{"m":0.9854,"T":8.3,"s":"repair 2"},{"m":0.9857,"T":-8.1,"s":"repair 2"},{"m":0.9862,"T":-6.4,"s":"repair 2"},{"m":0.9872,"T":-5,"s":"repair 2"},{"m":0.9874,"T":-10.7,"s":"repair 2"},{"m":0.9877,"T":-8.7,"s":"repair 2"},{"m":0.9882,"T":-9,"s":"repair 2"},{"m":0.988,"T":7.1,"s":"repair 2"},{"m":0.9878,"T":-1.2,"s":"repair 2"},{"m":0.989,"T":-4.1,"s":"repair 2"},{"m":0.9893,"T":-11.5,"s":"repair 2"},{"m":0.9896,"T":-2.4,"s":"repair 2"},{"m":0.9896,"T":-7.4,"s":"repair 2"},{"m":0.9895,"T":-8.9,"s":"repair 2"},{"m":0.9902,"T":9.1,"s":"repair 2"},{"m":0.9913,"T":18.7,"s":"repair 2"},{"m":0.9911,"T":11.4,"s":"repair 2"},{"m":0.9914,"T":-11.1,"s":"repair 2"},{"m":0.9916,"T":-12.2,"s":"repair 2"},{"m":0.9918,"T":-16.1,"s":"repair 2"},{"m":0.9922,"T":-15.9,"s":"repair 2"},{"m":0.993,"T":-13.8,"s":"repair 2"},{"m":0.9933,"T":-13.4,"s":"repair 2"},{"m":0.9957,"T":-13.5,"s":"repair 2"},{"m":0.9967,"T":-10.3,"s":"repair 2"},{"m":0.9978,"T":-12.4,"s":"repair 2"},{"m":0.9975,"T":-8.7,"s":"repair 2"},
{"m":0.993,"T":19,"s":"repair 3"},{"m":0.9945,"T":19,"s":"repair 3"},{"m":0.996,"T":19,"s":"repair 3"},{"m":0.9975,"T":19,"s":"repair 3"},{"m":0.999,"T":18.7,"s":"repair 3"},
{"m":0.9945,"T":17.5,"s":"repair 3"},{"m":0.9957,"T":17.5,"s":"repair 3"},{"m":0.9969,"T":17.5,"s":"repair 3"},{"m":0.9981,"T":17.5,"s":"repair 3"},
{"m":0.994,"T":16,"s":"repair 3"},{"m":0.9952,"T":16,"s":"repair 3"},{"m":0.9964,"T":16,"s":"repair 3"},{"m":0.9976,"T":16,"s":"repair 3"},{"m":0.9988,"T":16,"s":"repair 3"},
{"m":0.9945,"T":14.5,"s":"repair 3"},{"m":0.9957,"T":14.5,"s":"repair 3"},{"m":0.9969,"T":14.5,"s":"repair 3"},{"m":0.9981,"T":14.5,"s":"repair 3"},
{"m":0.9935,"T":13,"s":"repair 3"},{"m":0.9947,"T":13,"s":"repair 3"},{"m":0.9959,"T":13,"s":"repair 3"},{"m":0.9971,"T":13,"s":"repair 3"},{"m":0.9983,"T":13,"s":"repair 3"},
{"m":0.9932,"T":11.5,"s":"repair 3"},{"m":0.9944,"T":11.5,"s":"repair 3"},{"m":0.9956,"T":11.5,"s":"repair 3"},{"m":0.9968,"T":11.5,"s":"repair 3"},{"m":0.998,"T":11.5,"s":"repair 3"},
{"m":0.9935,"T":10,"s":"repair 3"},{"m":0.9947,"T":10,"s":"repair 3"},{"m":0.9959,"T":10,"s":"repair 3"},{"m":0.9971,"T":10,"s":"repair 3"},{"m":0.9983,"T":10,"s":"repair 3"},
{"m":0.9938,"T":8.5,"s":"repair 3"},{"m":0.995,"T":8.5,"s":"repair 3"},{"m":0.9962,"T":8.5,"s":"repair 3"},{"m":0.9974,"T":8.5,"s":"repair 3"},
{"m":0.9934,"T":7,"s":"repair 3"},{"m":0.9946,"T":7,"s":"repair 3"},{"m":0.9958,"T":7,"s":"repair 3"},{"m":0.997,"T":7,"s":"repair 3"},{"m":0.9982,"T":7,"s":"repair 3"},
{"m":0.993,"T":5.5,"s":"repair 3"},{"m":0.9942,"T":5.5,"s":"repair 3"},{"m":0.9954,"T":5.5,"s":"repair 3"},{"m":0.9966,"T":5.5,"s":"repair 3"},{"m":0.9978,"T":5.5,"s":"repair 3"},
{"m":0.9935,"T":4,"s":"repair 3"},{"m":0.9947,"T":4,"s":"repair 3"},{"m":0.9959,"T":4,"s":"repair 3"},{"m":0.9971,"T":4,"s":"repair 3"},
{"m":0.9945,"T":2.5,"s":"repair 3"},{"m":0.9957,"T":2.5,"s":"repair 3"},{"m":0.9969,"T":2.5,"s":"repair 3"},
{"m":0.9598,"T":10.8,"s":"repair 3"},{"m":0.9868,"T":3.3,"s":"repair 3"},{"m":0.9887,"T":1.1,"s":"repair 3"},{"m":0.9887,"T":2.1,"s":"repair 3"},{"m":0.987,"T":11.4,"s":"repair 3"},{"m":0.9884,"T":8.3,"s":"repair 3"},{"m":0.9887,"T":9.4,"s":"repair 3"},{"m":0.9905,"T":12.2,"s":"repair 3"},{"m":0.9921,"T":12.2,"s":"repair 3"},{"m":0.9932,"T":-1.8,"s":"repair 3"},{"m":0.9929,"T":1.7,"s":"repair 3"},{"m":0.9983,"T":1.3,"s":"repair 3"},{"m":0.9988,"T":4.3,"s":"repair 3"},{"m":0.9915,"T":5.5,"s":"repair 3"},{"m":0.9925,"T":9,"s":"repair 3"},{"m":0.991,"T":10.5,"s":"repair 3"}
]
},
"vconcat": [
{
  "width": 745, "height": 161,
  "data": {"name": "ts"},
  "layer": [
    {"mark": {"type": "point", "filled": true, "opacity": 1, "size": 55},
     "encoding": {
       "x": {"field": "t", "type": "temporal", "scale": {"type": "utc", "domain": [{"year": 2020, "month": 9, "date": 1, "utc": true}, {"year": 2021, "month": 6, "date": 1, "utc": true}]}, "axis": {"orient": "top", "title": "Time (UTC)", "format": "%b %Y", "tickCount": {"interval": "month", "step": 1}, "grid": true}},
       "y": {"field": "f", "type": "quantitative", "scale": {"domain": [14, 17], "nice": false, "zero": false}, "axis": {"orient": "left", "title": "Natural frequency (Hz)", "values": [14, 15, 16, 17], "labelExpr": "'' + datum.value", "grid": true, "minExtent": 28, "maxExtent": 28}},
       "color": {"field": "s", "type": "nominal", "scale": {"domain": ["initial", "damaged", "repair 1", "repair 2", "repair 3"], "range": ["#33ffff", "#d9d9d9", "#0000ff", "#ff0000", "#00ff00"]},
         "legend": {"title": null, "orient": "none", "legendX": 23, "legendY": 126, "direction": "horizontal", "columns": 5, "columnPadding": 8.5, "symbolOffset": 32, "labelOffset": 34.5, "padding": 5.5, "strokeColor": "#262626", "fillColor": "white", "symbolType": "circle", "symbolSize": 150, "symbolStrokeWidth": 0, "symbolOpacity": 1, "labelFontSize": 14.85, "labelFont": "Liberation Sans", "labelColor": "#000000", "cornerRadius": 0}}
     }},
    {"mark": {"type": "point", "opacity": 0},
     "encoding": {
       "x": {"field": "t", "type": "temporal", "axis": {"orient": "bottom", "labels": false, "title": null, "grid": false, "tickCount": {"interval": "month", "step": 1}}},
       "y": {"field": "f", "type": "quantitative", "axis": {"orient": "right", "labels": false, "title": null, "grid": false, "values": [14, 15, 16, 17]}}
     }}
  ]
},
{
  "spacing": 53,
  "hconcat": [
    {
      "width": 322, "height": 258,
      "data": {"name": "ft"},
      "layer": [
        {"mark": {"type": "point", "filled": true, "opacity": 1, "size": 33},
         "encoding": {
           "x": {"field": "f", "type": "quantitative", "scale": {"domain": [16, 16.8], "nice": false, "zero": false}, "axis": {"orient": "bottom", "title": "Natural frequency (Hz)", "values": [16, 16.2, 16.4, 16.6, 16.8], "labelExpr": "'' + datum.value", "labelPadding": 13, "grid": true}},
           "y": {"field": "T", "type": "quantitative", "scale": {"domain": [-20, 40], "nice": false, "zero": false}, "axis": {"orient": "left", "title": "Air temperature (°C)", "values": [-20, -10, 0, 10, 20, 30, 40], "labelExpr": "'' + datum.value", "grid": true, "minExtent": 28, "maxExtent": 28}},
           "color": {"field": "s", "type": "nominal", "scale": {"domain": ["initial", "damaged", "repair 1", "repair 2", "repair 3"], "range": ["#33ffff", "#d9d9d9", "#0000ff", "#ff0000", "#00ff00"]}, "legend": null}
         }},
        {"mark": {"type": "point", "opacity": 0},
         "encoding": {
           "x": {"field": "f", "type": "quantitative", "axis": {"orient": "top", "labels": false, "title": null, "grid": false, "values": [16, 16.2, 16.4, 16.6, 16.8]}},
           "y": {"field": "T", "type": "quantitative", "axis": {"orient": "right", "labels": false, "title": null, "grid": false, "values": [-20, -10, 0, 10, 20, 30, 40]}}
         }}
      ]
    },
    {
      "width": 323, "height": 258,
      "data": {"name": "mt"},
      "layer": [
        {"mark": {"type": "point", "filled": true, "opacity": 1, "size": 36},
         "encoding": {
           "x": {"field": "m", "type": "quantitative", "scale": {"domain": [0.94, 1], "nice": false, "zero": false}, "axis": {"orient": "bottom", "title": "MAC (-)", "values": [0.94, 0.96, 0.98, 1], "labelExpr": "'' + datum.value", "labelPadding": 13, "grid": true}},
           "y": {"field": "T", "type": "quantitative", "scale": {"domain": [-20, 40], "nice": false, "zero": false}, "axis": {"orient": "left", "title": null, "values": [-20, -10, 0, 10, 20, 30, 40], "labelExpr": "'' + datum.value", "grid": true, "minExtent": 28, "maxExtent": 28}},
           "color": {"field": "s", "type": "nominal", "scale": {"domain": ["initial", "damaged", "repair 1", "repair 2", "repair 3"], "range": ["#33ffff", "#d9d9d9", "#0000ff", "#ff0000", "#00ff00"]}, "legend": null}
         }},
        {"mark": {"type": "point", "opacity": 0},
         "encoding": {
           "x": {"field": "m", "type": "quantitative", "axis": {"orient": "top", "labels": false, "title": null, "grid": false, "values": [0.94, 0.96, 0.98, 1]}},
           "y": {"field": "T", "type": "quantitative", "axis": {"orient": "right", "labels": false, "title": null, "grid": false, "values": [-20, -10, 0, 10, 20, 30, 40]}}
         }}
      ]
    }
  ]
}
]
}
